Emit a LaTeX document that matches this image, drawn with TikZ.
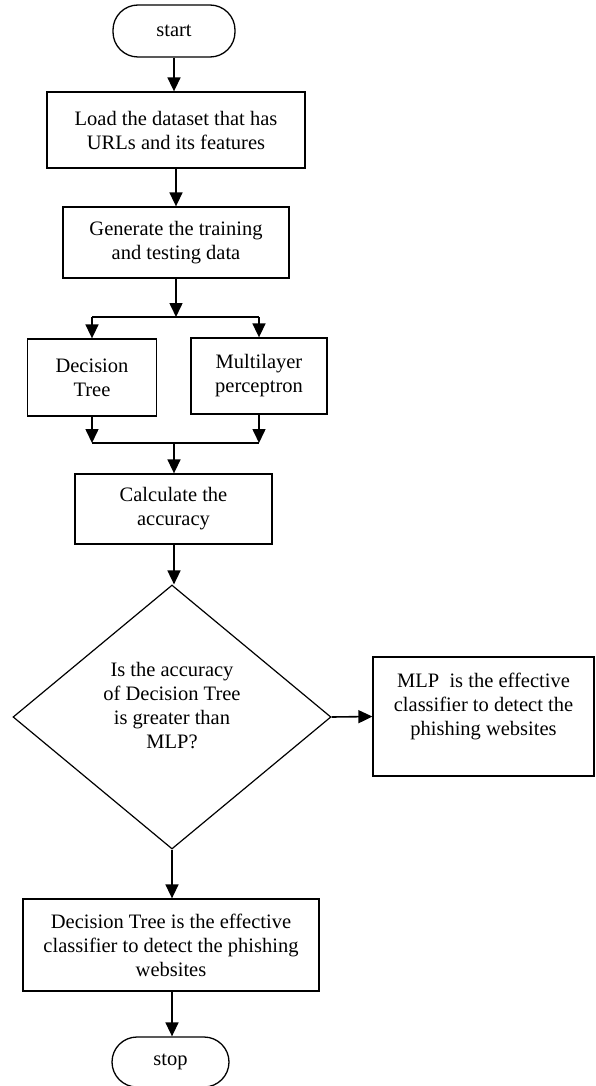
\documentclass[tikz,border=0pt]{standalone}
\usepackage{fontspec}
\setmainfont{Liberation Serif}
\usetikzlibrary{arrows.meta,shapes.geometric}
\begin{document}
\begin{tikzpicture}[x=1pt,y=-1pt,
  every node/.style={font=\fontsize{20.5}{24}\selectfont, align=center, inner sep=0pt},
  box/.style={draw, line width=1.3pt, rectangle},
  term/.style={draw, line width=1.3pt, rounded corners=25pt},
  dia/.style={draw, line width=1.2pt, diamond},
  arr/.style={line width=1.6pt, -{Triangle[length=14pt,width=13pt]}},
  ln/.style={line width=1.6pt}]
\useasboundingbox (0,0) rectangle (595,1086);

\node[term, minimum width=122pt, minimum height=52pt] (start) at (174,31) {start};
\node[box, minimum width=258pt, minimum height=76pt] (load) at (176,130) {Load the dataset that has\\URLs and its features};
\node[box, minimum width=226pt, minimum height=71pt] (gen) at (176,242.5) {Generate the training\\and testing data};
\node[box, minimum width=129pt, minimum height=77pt] (dt) at (92,377.5) {Decision\\Tree};
\node[box, minimum width=136pt, minimum height=76pt] (mlp) at (259,376) {Multilayer\\perceptron};
\node[box, minimum width=197pt, minimum height=70pt] (calc) at (173.5,509) {Calculate the\\accuracy};
\node[dia, minimum width=318pt, minimum height=264pt] (dec) at (172,717) {};
\node (dectext) at (172,706) {Is the accuracy\\of Decision Tree\\is greater than\\MLP?};
\node[box, minimum width=221pt, minimum height=119pt] (mlpeff) at (483.5,716.5) {MLP\ \ is the effective\\classifier to detect the\\phishing websites\\ \mbox{}};
\node[box, minimum width=296pt, minimum height=92pt] (dteff) at (171,945) {Decision Tree is the effective\\classifier to detect the phishing\\websites};
\node[term, minimum width=117pt, minimum height=50pt] (stop) at (170.5,1062) {stop};

\coordinate (split) at (176,317);
\coordinate (sl) at (92,317);
\coordinate (sr) at (259,317);
\coordinate (ml) at (92,443);
\coordinate (mr) at (259,443);
\coordinate (mc) at (174,443);

\draw[arr] (start.south) -- (start.south |- load.north);
\draw[arr] (load.south) -- (gen.north);
\draw[arr] (gen.south) -- (split);
\draw[ln] (sl) -- (sr);
\draw[arr] (sl) -- (dt.north);
\draw[arr] (sr) -- (mlp.north);
\draw[arr] (dt.south) -- (ml);
\draw[arr] (mlp.south) -- (mr);
\draw[ln] (ml) -- (mr);
\draw[arr] (mc) -- (mc |- calc.north);
\draw[arr] (mc |- calc.south) -- (mc |- dec.north);
\draw[arr] (dec.east) -- (mlpeff.west);
\draw[arr] (dec.south) -- (dec.south |- dteff.north);
\draw[arr] (dec.south |- dteff.south) -- (dec.south |- stop.north);
\end{tikzpicture}
\end{document}
